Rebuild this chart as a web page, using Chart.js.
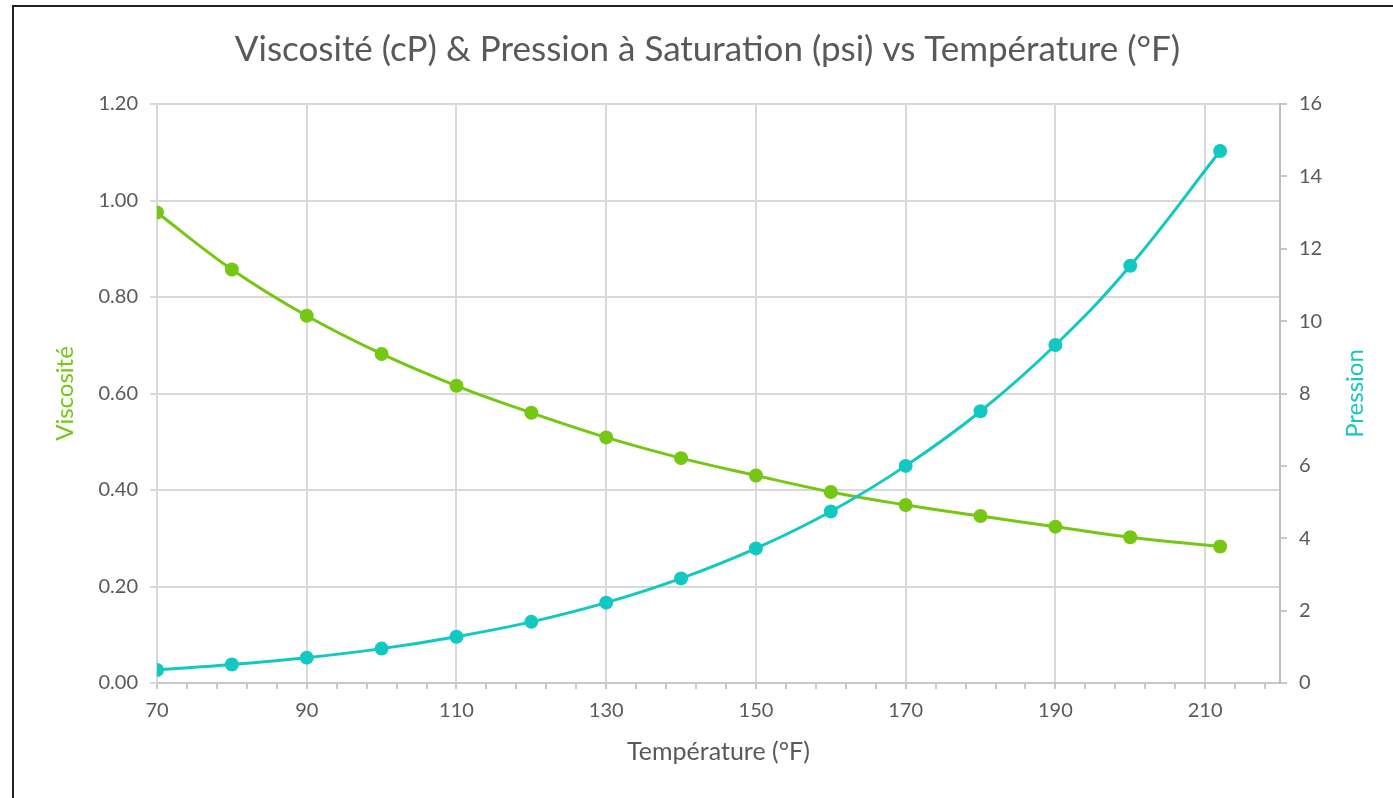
<!DOCTYPE html>
<html>
<head>
<meta charset="utf-8">
<script src="https://cdn.jsdelivr.net/npm/chart.js@4/dist/chart.umd.min.js"></script>
<style>
  html, body { margin: 0; padding: 0; background: #fff; overflow: hidden; }
  #frame { position: absolute; left: 12px; top: 5px; width: 1400px; height: 820px; border: 2px solid #222; }
  #wrap { position: absolute; left: 0; top: 0; width: 1393px; height: 798px; }
</style>
</head>
<body>
<div id="frame"></div>
<div id="wrap"><canvas id="chart" width="1393" height="798"></canvas></div>
<script>
// ==================== DATA ====================
const temperatures = [70, 80, 90, 100, 110, 120, 130, 140, 150, 160, 170, 180, 190, 200, 212];
const viscosity = [0.975, 0.857, 0.761, 0.682, 0.616, 0.560, 0.509, 0.466, 0.430, 0.396, 0.369, 0.346, 0.324, 0.302, 0.283];
const pressure = [0.36, 0.51, 0.70, 0.95, 1.28, 1.69, 2.22, 2.89, 3.72, 4.74, 6.00, 7.51, 9.34, 11.53, 14.70];
const xMajorTicks = [70, 90, 110, 130, 150, 170, 190, 210];
const xMinorStep = 4;

const GREEN = "#76c614";
const TEAL = "#12c9c1";
const TEXT = "#595959";
const GRID = "#d9d9d9";
const FONT = "Lato, 'Open Sans', sans-serif";

// ==================== RIGHT AXIS TITLE ====================
// drawn by hand so it reads bottom-to-top like the left one
const rightTitle = {
  id: "rightTitle",
  afterDraw(chart) {
    const ctx = chart.ctx;
    const area = chart.chartArea;
    ctx.save();
    ctx.translate(1355, (area.top + area.bottom) / 2);
    ctx.rotate(-Math.PI / 2);
    ctx.font = "24px " + FONT;
    ctx.fillStyle = TEAL;
    ctx.textAlign = "center";
    ctx.textBaseline = "middle";
    ctx.fillText("Pression", 0, 0);
    ctx.restore();
  }
};

function toPoints(ys) {
  return temperatures.map((t, i) => ({ x: t, y: ys[i] }));
}

new Chart(document.getElementById("chart"), {
  type: "line",
  data: {
    datasets: [{
      label: "Viscosité",
      data: toPoints(viscosity),
      yAxisID: "y",
      borderColor: GREEN,
      backgroundColor: GREEN,
      borderWidth: 3,
      pointRadius: 7,
      pointBorderWidth: 0,
      tension: 0.4,
      order: 1
    }, {
      label: "Pression",
      data: toPoints(pressure),
      yAxisID: "y1",
      borderColor: TEAL,
      backgroundColor: TEAL,
      borderWidth: 3,
      pointRadius: 7,
      pointBorderWidth: 0,
      tension: 0.4,
      order: 0
    }]
  },
  options: {
    responsive: false,
    animation: false,
    layout: { padding: { left: 22, right: 0, top: 0, bottom: 0 } },
    plugins: {
      legend: { display: false },
      tooltip: { enabled: false },
      title: {
        display: true,
        text: "Viscosité (cP) & Pression à Saturation (psi) vs Température (°F)",
        color: TEXT,
        font: { family: FONT, size: 35, weight: "normal" },
        padding: { top: 29, bottom: 33 }
      }
    },
    scales: {
      x: {
        type: "linear",
        min: 70,
        max: 220,
        afterBuildTicks: (axis) => {
          const ticks = [];
          for (let v = 70; v < 220; v += xMinorStep) ticks.push({ value: v });
          axis.ticks = ticks;
        },
        afterFit: (scale) => { scale.height = 115; },
        ticks: {
          autoSkip: false,
          maxRotation: 0,
          color: TEXT,
          padding: 10,
          font: { family: FONT, size: 20 },
          callback: (v) => xMajorTicks.includes(v) ? String(v) : ""
        },
        grid: {
          color: (c) => xMajorTicks.includes(c.tick && c.tick.value) ? GRID : "transparent",
          tickColor: "#c8c8c8",
          tickLength: 6,
          lineWidth: 2
        },
        border: { color: "#c8c8c8", width: 2 },
        title: {
          display: true,
          text: "Température (°F)",
          color: TEXT,
          font: { family: FONT, size: 25 },
          padding: { bottom: 31 }
        }
      },
      y: {
        position: "left",
        min: 0,
        max: 1.2,
        afterFit: (scale) => { scale.width = 135; },
        ticks: {
          stepSize: 0.2,
          color: TEXT,
          padding: 12,
          font: { family: FONT, size: 20 },
          callback: (v) => v.toFixed(2)
        },
        grid: { color: GRID, tickColor: GRID, tickLength: 7, lineWidth: 2 },
        border: { color: GRID, width: 2 },
        title: {
          display: true,
          text: "Viscosité",
          color: GREEN,
          font: { family: FONT, size: 24 },
          padding: { top: 28.6 }
        }
      },
      y1: {
        position: "right",
        min: 0,
        max: 16,
        afterFit: (scale) => { scale.width = 113; },
        ticks: {
          stepSize: 2,
          color: TEXT,
          padding: 12,
          font: { family: FONT, size: 20 }
        },
        grid: { drawOnChartArea: false, tickColor: "#c8c8c8", tickLength: 7, lineWidth: 2 },
        border: { color: "#bfbfbf", width: 2 }
      }
    }
  },
  plugins: [rightTitle]
});
</script>
</body>
</html>
